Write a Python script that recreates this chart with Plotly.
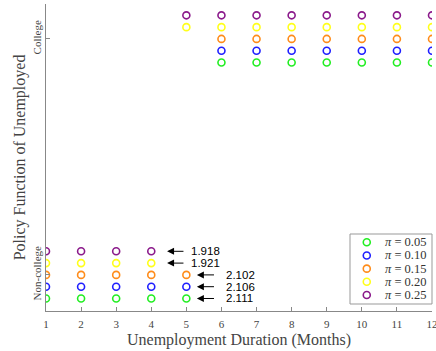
import plotly.graph_objects as go

months = list(range(1, 13))
pi_labels = ["0.05", "0.10", "0.15", "0.20", "0.25"]
colors = ["#22ee22", "#1f1fff", "#ff8c1a", "#ffff1a", "#8b1a8b"]
# row offsets within a category (visual stacking of the five series)
offsets = [-0.1, -0.05, 0.0, 0.05, 0.1]
# last month of non-college choice for each pi (college afterwards)
switch_month = [5, 5, 5, 4, 4]
# annotated thresholds
thresh_values = ["2.111", "2.106", "2.102", "1.921", "1.918"]

serif = "Liberation Serif, Times New Roman, serif"

fig = go.Figure()
for i, lab in enumerate(pi_labels):
    ys = [(0 if m <= switch_month[i] else 1) + offsets[i] for m in months]
    fig.add_trace(go.Scatter(
        x=months, y=ys, mode="markers",
        marker=dict(symbol="circle-open", size=7, color=colors[i], line=dict(width=1.6, color=colors[i])),
        name=f"<i>π</i> = {lab}", showlegend=False,
    ))

for i, v in enumerate(thresh_values):
    m = switch_month[i]
    y = offsets[i]
    if m == 4:
        head, tail, tx = m + 0.45, m + 0.96, m + 1.08
    else:
        head, tail, tx = m + 0.30, m + 0.83, m + 1.08
    fig.add_annotation(x=head, y=y, ax=tail, ay=y, axref="x", ayref="y", xref="x", yref="y",
                       text="", showarrow=True, arrowhead=2, arrowsize=1.4, arrowwidth=1,
                       arrowcolor="black")
    fig.add_annotation(x=tx, y=y, xref="x", yref="y", text=v, showarrow=False,
                       xanchor="left", yanchor="middle",
                       font=dict(family="Liberation Sans, Arial", size=11.5, color="black"))

# custom legend box (compact, like the reference)
leg_x0, leg_x1, leg_y0, leg_y1 = 0.7876, 1.0, 0.0228, 0.2508
row_top, row_step = 0.2238, 0.0429
mark_x, text_x = 0.831, 0.873
fig.add_shape(type="rect", xref="paper", yref="paper", x0=leg_x0, x1=leg_x1, y0=leg_y0, y1=leg_y1,
              line=dict(color="#999", width=1), fillcolor="white", layer="below")
for i, lab in enumerate(pi_labels):
    yy = row_top - i * row_step
    fig.add_trace(go.Scatter(
        x=[mark_x], y=[yy], xaxis="x2", yaxis="y2", mode="markers", showlegend=False,
        marker=dict(symbol="circle-open", size=7, color=colors[i], line=dict(width=1.6, color=colors[i])),
        hoverinfo="skip",
    ))
    fig.add_annotation(x=text_x, y=yy, xref="paper", yref="paper", text=f"<i>π</i> = {lab}",
                       showarrow=False, xanchor="left", yanchor="middle",
                       font=dict(family=serif, size=12.5, color="#333"))

fig.update_layout(
    width=436, height=351,
    margin=dict(l=46, r=4, t=4, b=40),
    paper_bgcolor="white", plot_bgcolor="white",
    font=dict(family=serif, color="#333"),
    showlegend=False,
    xaxis2=dict(overlaying="x", range=[0, 1], visible=False, fixedrange=True),
    yaxis2=dict(overlaying="y", range=[0, 1], visible=False, fixedrange=True),
)
fig.update_xaxes(
    selector=dict(overlaying=None),
)
fig.layout.xaxis.update(
    range=[1, 12], tickvals=months, showgrid=False, zeroline=False,
    showline=True, linecolor="#888", linewidth=1,
    ticks="inside", ticklen=4, tickcolor="#888", ticklabelstandoff=3,
    ticklabeloverflow="allow",
    tickfont=dict(family=serif, size=11, color="#444"),
    title=dict(text="Unemployment Duration (Months)", font=dict(family=serif, size=16, color="#444"), standoff=4),
    automargin=False,
)
fig.layout.yaxis.update(
    range=[-0.153, 1.148], tickvals=[0, 1], ticktext=["Non-college", "College"],
    tickangle=-90, showgrid=False, zeroline=False,
    showline=True, linecolor="#888", linewidth=1,
    ticks="inside", ticklen=4, tickcolor="#888",
    tickfont=dict(family=serif, size=11, color="#444"),
    title=dict(text="Policy Function of Unemployed", font=dict(family=serif, size=16, color="#444"), standoff=0),
    automargin=False,
)

fig.write_html("out.html")
